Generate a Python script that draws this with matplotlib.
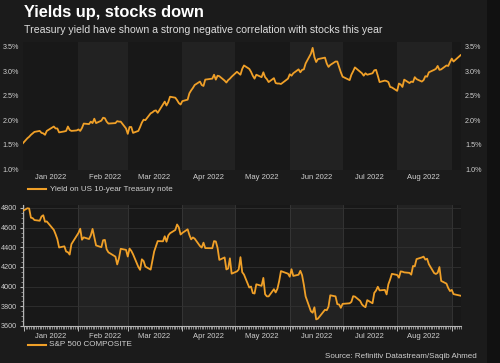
import matplotlib
matplotlib.use("Agg")
import matplotlib.pyplot as plt
import matplotlib.dates as mdates
from matplotlib.lines import Line2D
from matplotlib.patches import Rectangle
import pandas as pd
import numpy as np

plt.rcParams['font.family'] = ['Liberation Sans', 'DejaVu Sans']

# ---------------- data ----------------
holidays = ['2022-01-17', '2022-02-21', '2022-04-15', '2022-05-30',
            '2022-06-20', '2022-07-04', '2022-09-05']
dates = pd.bdate_range('2021-12-31', '2022-09-06')
dates = dates[~dates.isin(pd.to_datetime(holidays))]

yield_10y = [1.51,
    1.63, 1.66, 1.70, 1.73, 1.76, 1.78, 1.74, 1.73, 1.70, 1.78, 1.87, 1.83, 1.83, 1.75, 1.77, 1.78, 1.87, 1.80, 1.78, 1.79,
    1.81, 1.78, 1.84, 1.93, 1.92, 1.97, 1.94, 2.03, 1.94, 1.99, 2.05, 2.04, 1.97, 1.93, 1.94, 1.98, 1.97, 1.97, 1.83,
    1.72, 1.86, 1.86, 1.74, 1.78, 1.86, 1.95, 2.01, 2.00, 2.14, 2.16, 2.19, 2.20, 2.15, 2.32, 2.38, 2.30, 2.37, 2.48, 2.46, 2.41, 2.35, 2.32,
    2.39, 2.42, 2.55, 2.61, 2.66, 2.72, 2.79, 2.72, 2.70, 2.83, 2.85, 2.93, 2.83, 2.91, 2.90, 2.81, 2.77, 2.82, 2.85, 2.89,
    2.99, 2.96, 2.93, 3.05, 3.12, 3.05, 2.99, 2.91, 2.85, 2.93, 2.88, 2.98, 2.88, 2.84, 2.78, 2.86, 2.76, 2.75, 2.75, 2.74, 2.85,
    2.94, 2.91, 2.96, 3.04, 2.98, 3.03, 3.04, 3.16, 3.36, 3.48, 3.29, 3.19, 3.25, 3.28, 3.16, 3.09, 3.13, 3.20, 3.20, 3.09, 2.98,
    2.89, 2.82, 2.93, 3.00, 3.08, 2.99, 2.96, 2.91, 2.96, 2.93, 2.96, 3.02, 3.03, 2.91, 2.78, 2.81, 2.80, 2.78, 2.68, 2.67,
    2.60, 2.75, 2.73, 2.68, 2.83, 2.76, 2.79, 2.78, 2.88, 2.84, 2.79, 2.82, 2.90, 2.89, 2.98, 3.03, 3.05, 3.11, 3.03, 3.04, 3.12, 3.11, 3.19,
    3.26, 3.20, 3.33]

sp500 = [4766,
    4797, 4794, 4701, 4696, 4677, 4670, 4713, 4726, 4660, 4663, 4577, 4533, 4483, 4398, 4410, 4357, 4350, 4326, 4432, 4516,
    4546, 4589, 4477, 4501, 4484, 4521, 4587, 4504, 4419, 4401, 4472, 4475, 4380, 4349, 4305, 4226, 4289, 4385, 4374,
    4306, 4387, 4364, 4329, 4201, 4171, 4278, 4260, 4204, 4173, 4263, 4358, 4412, 4463, 4461, 4512, 4457, 4520, 4543, 4576, 4632, 4603, 4530,
    4546, 4583, 4525, 4481, 4500, 4488, 4413, 4397, 4447, 4392, 4391, 4463, 4459, 4394, 4272, 4297, 4175, 4184, 4288, 4132,
    4155, 4175, 4300, 4147, 4123, 3991, 4001, 3935, 3930, 4024, 4008, 4089, 3923, 3901, 3901, 3974, 3941, 3979, 4058, 4158, 4132,
    4101, 4177, 4109, 4121, 4161, 4116, 4018, 3901, 3750, 3735, 3790, 3667, 3675, 3765, 3760, 3796, 3912, 3901, 3822, 3819, 3785,
    3825, 3831, 3845, 3903, 3899, 3855, 3819, 3802, 3791, 3863, 3831, 3937, 3960, 3999, 3962, 3967, 3921, 4024, 4073, 4130,
    4119, 4091, 4155, 4152, 4145, 4140, 4122, 4210, 4207, 4280, 4297, 4305, 4275, 4284, 4228, 4138, 4129, 4141, 4199, 4058, 4031, 3986, 3955,
    3967, 3924, 3908]

month_starts = pd.to_datetime(['2022-01-01', '2022-02-01', '2022-03-01', '2022-04-01', '2022-05-01',
                               '2022-06-01', '2022-07-01', '2022-08-01', '2022-09-01'])
month_labels = ['Jan 2022', 'Feb 2022', 'Mar 2022', 'Apr 2022', 'May 2022', 'Jun 2022', 'Jul 2022', 'Aug 2022']
yield_ticks = [1.0, 1.5, 2.0, 2.5, 3.0, 3.5]
sp_ticks = [3600, 3800, 4000, 4200, 4400, 4600, 4800]

title = 'Yields up, stocks down'
subtitle = 'Treasury yield have shown a strong negative correlation with stocks this year'
legend1 = 'Yield on US 10-year Treasury note'
legend2 = 'S&P 500 COMPOSITE'
source = 'Source: Refinitiv Datastream/Saqib Ahmed'

# ---------------- style ----------------
W, H = 500, 363
BG = '#1b1b1b'
BAND_DARK = '#181818'
BAND_LIGHT = '#222222'
LINE = '#f0a028'
TXT = '#cfcfcf'
AXC = '#b5b5b5'

fig = plt.figure(figsize=(W / 100, H / 100), dpi=100, facecolor=BG)
fig.add_artist(Rectangle((487 / W, 0), 1 - 487 / W, 1, transform=fig.transFigure,
                         facecolor='#111111', edgecolor='none', zorder=-5))

def fx(px):
    return px / W

def fy(py):
    return 1 - py / H

xmin = pd.Timestamp('2021-12-31 12:00')
xmax = pd.Timestamp('2022-09-06 06:00')
mid_months = [m + pd.Timedelta(days=15) for m in month_starts[:-1]]

def shade(ax):
    ax.set_facecolor(BAND_DARK)
    for i in range(len(month_starts) - 1):
        if i % 2 == 1:
            ax.axvspan(month_starts[i], month_starts[i + 1], color=BAND_LIGHT, lw=0, zorder=0)

# top axes
ax1 = fig.add_axes([fx(23), fy(170), fx(461 - 23), (170 - 42) / H])
shade(ax1)
ax1.plot(dates, yield_10y, color=LINE, lw=1.3, zorder=3)
ax1.set_xlim(xmin, xmax)
ax1.set_ylim(0.98, 3.6)
ax1.set_yticks(yield_ticks)
ax1.set_yticklabels([f'{v:.1f}%' for v in yield_ticks])
ax1.set_xticks(mid_months)
ax1.set_xticklabels(month_labels)
for s in ax1.spines.values():
    s.set_visible(False)
ax1.tick_params(axis='y', length=0, labelsize=5.2, labelcolor=TXT, pad=3,
                labelleft=True, labelright=True)
ax1.tick_params(axis='x', length=0, labelsize=5.5, labelcolor=TXT, pad=3)

# bottom axes
ax2 = fig.add_axes([fx(23), fy(326), fx(461 - 23), (326 - 205) / H])
shade(ax2)
ax2.plot(dates, sp500, color=LINE, lw=1.3, zorder=3)
ax2.set_xlim(xmin, xmax)
ax2.set_ylim(3600, 4830)
ax2.set_yticks(sp_ticks)
ax2.set_yticklabels([str(v) for v in sp_ticks])
ax2.set_yticks(np.arange(3600, 4830, 50), minor=True)
ax2.set_xticks(month_starts)
ax2.set_xticklabels([])
ax2.xaxis.set_minor_locator(mdates.DayLocator())
for i, m in enumerate(mid_months):
    ax2.text(m, -0.055, month_labels[i], transform=ax2.get_xaxis_transform(),
             ha='center', va='top', fontsize=5.5, color=TXT)
for m in month_starts:
    ax2.axvline(m, color='#383838', lw=0.6, zorder=1)
ax2.grid(axis='y', color='#313131', lw=0.6, zorder=1)
for k in ['top', 'right']:
    ax2.spines[k].set_visible(False)
for k in ['left', 'bottom']:
    ax2.spines[k].set_color(AXC)
    ax2.spines[k].set_linewidth(0.8)
ax2.tick_params(axis='x', which='major', length=3.5, color=AXC, width=0.7)
ax2.tick_params(axis='x', which='minor', length=1.8, color=AXC, width=0.5)
ax2.tick_params(axis='y', which='major', length=2.5, labelsize=5.2, labelcolor=TXT, color=AXC, pad=2)
ax2.tick_params(axis='y', which='minor', length=1.5, color=AXC, width=0.5)

# titles
fig.text(fx(24), fy(12), title, fontsize=11.8, fontweight='bold', color='white', va='center', ha='left')
fig.text(fx(24), fy(30), subtitle, fontsize=7.6, color='#dddddd', va='center', ha='left')

# legends
fig.add_artist(Line2D([fx(28), fx(46)], [fy(189), fy(189)], color=LINE, lw=1.5))
fig.text(fx(50), fy(189), legend1, fontsize=5.8, color=TXT, va='center', ha='left')
fig.add_artist(Line2D([fx(28), fx(46)], [fy(345), fy(345)], color=LINE, lw=1.5))
fig.text(fx(49), fy(345), legend2, fontsize=5.9, color=TXT, va='center', ha='left')

fig.text(fx(477), fy(357), source, fontsize=5.8, color=TXT, va='center', ha='right')

fig.savefig('out.png', dpi=100, facecolor=BG)
